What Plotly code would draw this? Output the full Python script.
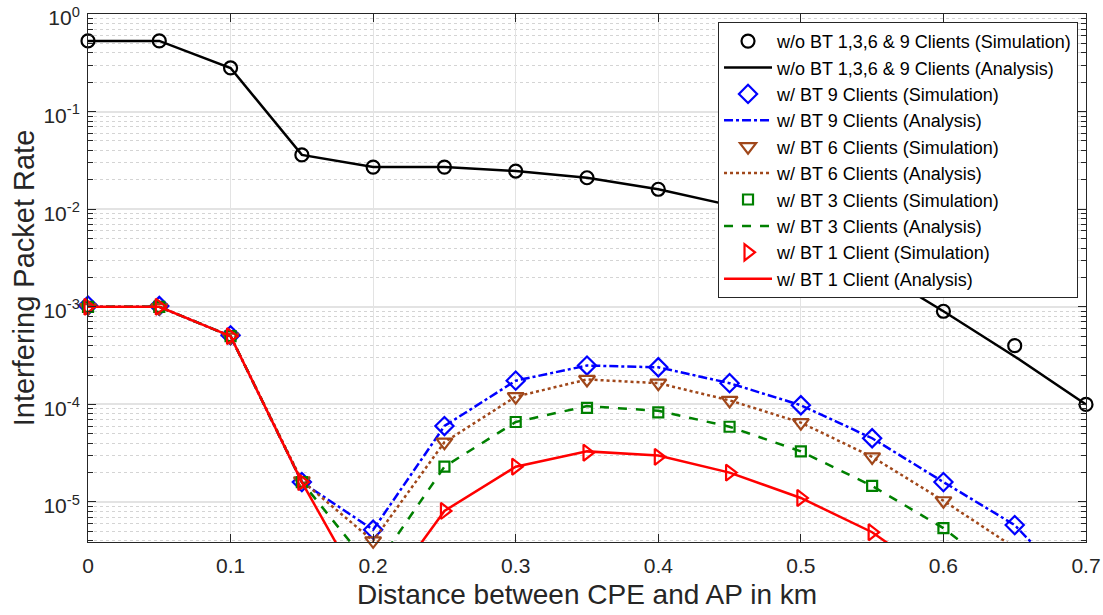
import plotly.graph_objects as go

distance_km = [0, 0.05, 0.1, 0.15, 0.2, 0.25, 0.3, 0.35, 0.4, 0.45, 0.5, 0.55, 0.6, 0.65, 0.7]

# without BT (1,3,6 & 9 clients)
wo_bt_sim = [0.53, 0.53, 0.28, 0.036, 0.027, 0.027, 0.0246, 0.021, 0.016, 0.011, 0.006, 0.0025, 9.0e-4, 4.0e-4, 1.0e-4]
wo_bt_ana = [0.53, 0.53, 0.28, 0.036, 0.027, 0.027, 0.0246, 0.021, 0.016, 0.011, 0.006, 0.0025, 9.0e-4, 3.1e-4, 1.0e-4]

# with BT, 9 clients
bt9_sim = [1.03e-3, 1.02e-3, 5.1e-4, 1.6e-5, 5.2e-6, 6.0e-5, 1.75e-4, 2.5e-4, 2.4e-4, 1.65e-4, 9.8e-5, 4.5e-5, 1.6e-5, 5.8e-6, None]
bt9_ana = [1.0e-3, 1.0e-3, 5.0e-4, 1.6e-5, 5.2e-6, 6.0e-5, 1.75e-4, 2.5e-4, 2.4e-4, 1.65e-4, 9.8e-5, 4.5e-5, 1.6e-5, 5.8e-6, 1.0e-6]

# with BT, 6 clients
bt6_sim = [9.8e-4, 9.8e-4, 4.9e-4, 1.65e-5, 4.0e-6, 4.1e-5, 1.2e-4, 1.8e-4, 1.65e-4, 1.1e-4, 6.5e-5, 2.9e-5, 1.03e-5, None, None]
bt6_ana = [1.0e-3, 1.0e-3, 5.0e-4, 1.65e-5, 4.0e-6, 4.1e-5, 1.2e-4, 1.8e-4, 1.65e-4, 1.1e-4, 6.5e-5, 2.9e-5, 1.03e-5, 3.4e-6, 8.0e-7]

# with BT, 3 clients
bt3_sim = [1.0e-3, 1.0e-3, 5.0e-4, 1.6e-5, None, 2.3e-5, 6.6e-5, 9.2e-5, 8.3e-5, 5.9e-5, 3.3e-5, 1.46e-5, 5.4e-6, None, None]
bt3_ana = [1.0e-3, 1.0e-3, 5.0e-4, 1.6e-5, 2.0e-6, 2.3e-5, 6.6e-5, 9.6e-5, 8.6e-5, 5.9e-5, 3.3e-5, 1.46e-5, 5.4e-6, 1.5e-6, 4.0e-7]

# with BT, 1 client
bt1_sim = [1.0e-3, 1.0e-3, 5.0e-4, 1.6e-5, None, 8.1e-6, 2.3e-5, 3.2e-5, 2.9e-5, 2.0e-5, 1.1e-5, 4.9e-6, None, None, None]
bt1_ana = [1.0e-3, 1.0e-3, 5.0e-4, 1.6e-5, 8.0e-7, 8.1e-6, 2.3e-5, 3.3e-5, 3.0e-5, 2.0e-5, 1.1e-5, 4.9e-6, 1.5e-6, 5.0e-7, 1.5e-7]

y_tickvals = [1e-5, 1e-4, 1e-3, 1e-2, 1e-1, 1]
y_ticktext = ["10<sup>-5</sup>", "10<sup>-4</sup>", "10<sup>-3</sup>", "10<sup>-2</sup>", "10<sup>-1</sup>", "10<sup>0</sup>"]
x_tickvals = [0, 0.1, 0.2, 0.3, 0.4, 0.5, 0.6, 0.7]
x_ticktext = ["0", "0.1", "0.2", "0.3", "0.4", "0.5", "0.6", "0.7"]

BLUE = "#0000FF"
BROWN = "#A0471A"
GREEN = "#008000"
RED = "#FF0000"
BLACK = "#000000"

series = [
    ("w/o BT 1,3,6 & 9 Clients", wo_bt_sim, wo_bt_ana, BLACK, "circle-open", 13, "solid"),
    ("w/ BT 9 Clients", bt9_sim, bt9_ana, BLUE, "diamond-open", 14, "dashdot"),
    ("w/ BT 6 Clients", bt6_sim, bt6_ana, BROWN, "triangle-down-open", 14, "dot"),
    ("w/ BT 3 Clients", bt3_sim, bt3_ana, GREEN, "square-open", 10, "dash"),
    ("w/ BT 1 Client", bt1_sim, bt1_ana, RED, "triangle-right-open", 14, "solid"),
]

FONT = "Arial, Liberation Sans, sans-serif"

fig = go.Figure()
for name, sim, ana, color, sym, size, dash in series:
    fig.add_trace(go.Scatter(
        x=distance_km, y=sim, mode="markers", name=name + " (Simulation)",
        marker=dict(symbol=sym, size=size, color=color, line=dict(width=2.2, color=color)),
        cliponaxis=False,
    ))
    fig.add_trace(go.Scatter(
        x=distance_km, y=ana, mode="lines", name=name + " (Analysis)",
        line=dict(color=color, width=2.5, dash=dash),
    ))

grid_col = "#E3E3E3"
axis_font = dict(family=FONT, size=21, color="#262626")

fig.update_layout(
    width=1103, height=615,
    paper_bgcolor="white", plot_bgcolor="white",
    margin=dict(l=88, r=17, t=14, b=73),
    font=dict(family=FONT, color="#262626"),
    showlegend=True,
    legend=dict(
        x=0.992, y=0.985, xanchor="right", yanchor="top",
        bgcolor="white", bordercolor="#262626", borderwidth=1,
        font=dict(family=FONT, size=18, color="#000000"),
        itemwidth=48, tracegroupgap=0,
    ),
    xaxis=dict(
        range=[0, 0.7], tickvals=x_tickvals, ticktext=x_ticktext,
        showgrid=True, gridcolor=grid_col, gridwidth=1,
        ticks="inside", ticklen=8, tickcolor="#262626",
        showline=True, linecolor="#262626", linewidth=1, mirror="ticks",
        zeroline=False, tickfont=axis_font, automargin=False,
        ticklabeloverflow="allow", ticklabelstandoff=5,
        title=dict(text="Distance between CPE and AP in km",
                   font=dict(family=FONT, size=28, color="#262626"),
                   standoff=8),
    ),
    yaxis=dict(
        type="log", range=[-5.41, 0], tickvals=y_tickvals, ticktext=y_ticktext,
        showgrid=True, gridcolor=grid_col, gridwidth=1.5,
        ticks="inside", ticklen=8, tickcolor="#262626",
        showline=True, linecolor="#262626", linewidth=1, mirror="ticks",
        zeroline=False, tickfont=axis_font, automargin=False,
        ticklabeloverflow="allow", ticklabelstandoff=3, ticklabelshift=4,
        minor=dict(dtick="D1", ticks="inside", ticklen=5, tickcolor="#262626",
                   showgrid=True, gridcolor="#D4D4D4", griddash="dot", gridwidth=1),
        title=dict(text="Interfering Packet Rate",
                   font=dict(family=FONT, size=29, color="#262626"),
                   standoff=0),
    ),
)

fig.write_html("out.html", config={"displayModeBar": False},
               post_script="document.body.style.margin='0px';")
